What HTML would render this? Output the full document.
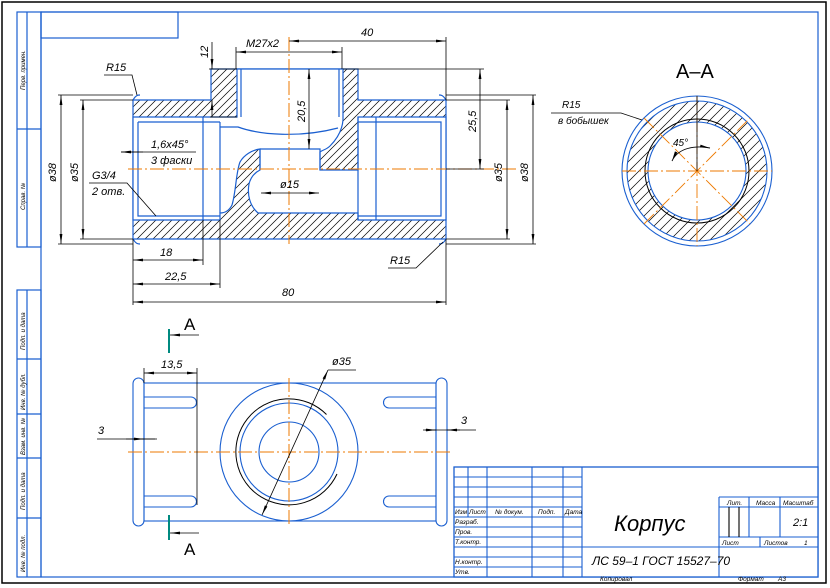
<!DOCTYPE html>
<html><head><meta charset="utf-8"><style>
html,body{margin:0;padding:0;background:#fff;}
svg{display:block;}
text{font-family:"Liberation Sans",sans-serif;font-style:italic;fill:#000;}
</style></head><body>
<svg width="830" height="588" viewBox="0 0 830 588" xmlns="http://www.w3.org/2000/svg">
<defs>
<pattern id="h" patternUnits="userSpaceOnUse" width="8" height="8"><path d="M-1,9 L9,-1 M-1,1 L1,-1 M7,9 L9,7" stroke="#000" stroke-width="0.7"/></pattern>
<pattern id="h2" patternUnits="userSpaceOnUse" width="10" height="10"><path d="M-1,11 L11,-1 M-1,1 L1,-1 M9,11 L11,9" stroke="#000" stroke-width="0.7"/></pattern>
<marker id="a" viewBox="0 0 10 4" refX="10" refY="2" markerWidth="10" markerHeight="4" orient="auto-start-reverse" markerUnits="userSpaceOnUse"><path d="M0,0.6 L10,2 L0,3.4 Z" fill="#000"/></marker>
</defs>
<!-- frames -->
<rect x="2" y="2" width="824" height="581" fill="none" stroke="#000" stroke-width="1.5"/>
<rect x="41" y="12" width="777" height="565" fill="none" stroke="#1a5fd0" stroke-width="1.2"/>
<rect x="41" y="12" width="137" height="26" fill="none" stroke="#1a5fd0" stroke-width="1.2"/>
<g fill="none" stroke="#1a5fd0" stroke-width="1.2">
<rect x="17" y="12" width="24" height="235"/><line x1="27" y1="12" x2="27" y2="247"/><line x1="17" y1="129" x2="41" y2="129"/>
<rect x="17" y="290" width="24" height="287"/><line x1="27" y1="290" x2="27" y2="577"/>
<line x1="17" y1="359" x2="41" y2="359"/><line x1="17" y1="414" x2="41" y2="414"/><line x1="17" y1="458" x2="41" y2="458"/><line x1="17" y1="518" x2="41" y2="518"/>
</g>
<g font-size="6">
<text transform="translate(25,90) rotate(-90)">Перв. примен.</text>
<text transform="translate(25,210) rotate(-90)">Справ. №</text>
<text transform="translate(25,350) rotate(-90)">Подп. и дата</text>
<text transform="translate(25,410) rotate(-90)">Инв. № дубл.</text>
<text transform="translate(25,455) rotate(-90)">Взам. инв. №</text>
<text transform="translate(25,510) rotate(-90)">Подп. и дата</text>
<text transform="translate(25,572) rotate(-90)">Инв. № подл.</text>
</g>

<!-- SECTION VIEW -->
<path d="M133,100 L211,100 L211,69 L358,69 L358,100 L446,100 L446,239 L133,239 Z" fill="url(#h)" stroke="#1a5fd0" stroke-width="1.2"/>
<path d="M133,117 L237,117 L237,69 L343,69 L343,120 C342,132 336,140 330,146 C326,150 322,150 320,152 L320,170 L358,170 L358,117 L446,117 L446,220 L358,220 L358,213 L258,213 C250,206 247,195 249,184 C251,176 256,172 260,170 L260,149 C252,150 244,155 240,162 C236,172 236,192 232,205 C229,211 225,213 220,213 L220,220 L133,220 Z" fill="#fff" stroke="#1a5fd0" stroke-width="1.2"/>
<g fill="none" stroke="#1a5fd0" stroke-width="1.2">
<path d="M138,122 L220,122 M138,122 L138,216 L220,216 M203,117 L203,220 M220,122 L220,213"/>
<path d="M358,122 L441,122 L441,216 L358,216 M376,117 L376,220 M358,117 L358,220"/>
<path d="M241,69 L241,117 M339,69 L339,117 M220,127 L238,127 C260,135 300,138 338,128"/>
<path d="M260,149 L320,149 L320,170 M260,149 L260,170"/>
<path d="M133,100 C136,95 138,95 140,95 M133,239 C136,244 138,244 140,244 M446,100 C443,95 441,95 439,95 M446,239 C443,244 441,244 439,244"/>
</g>
<g stroke="#ee7a00" stroke-width="1" stroke-dasharray="14,3,2,3" fill="none">
<line x1="128" y1="169" x2="518" y2="169"/><line x1="289" y1="37" x2="289" y2="244"/>
</g>
<!-- dimensions section -->
<g stroke="#000" stroke-width="0.8" fill="none">
<line x1="446" y1="37" x2="446" y2="100"/>
<line x1="289" y1="41" x2="446" y2="41" marker-start="url(#a)" marker-end="url(#a)"/>
<line x1="236" y1="47" x2="236" y2="69"/><line x1="342" y1="47" x2="342" y2="69"/>
<line x1="236" y1="52" x2="342" y2="52" marker-start="url(#a)" marker-end="url(#a)"/>
<line x1="209" y1="69" x2="237" y2="69"/><line x1="210" y1="117" x2="237" y2="117"/>
<line x1="212" y1="42" x2="212" y2="69" marker-end="url(#a)"/><line x1="212" y1="100" x2="212" y2="117" marker-start="url(#a)"/>
<line x1="309" y1="69" x2="309" y2="149" marker-start="url(#a)" marker-end="url(#a)"/>
<line x1="343" y1="69" x2="484" y2="69"/><line x1="446" y1="169" x2="484" y2="169"/>
<line x1="480" y1="69" x2="480" y2="169" marker-start="url(#a)" marker-end="url(#a)"/>
<line x1="58" y1="95" x2="133" y2="95"/><line x1="58" y1="244" x2="133" y2="244"/>
<line x1="80" y1="100" x2="133" y2="100"/><line x1="80" y1="239" x2="133" y2="239"/>
<line x1="61" y1="95" x2="61" y2="244" marker-start="url(#a)" marker-end="url(#a)"/>
<line x1="83" y1="100" x2="83" y2="239" marker-start="url(#a)" marker-end="url(#a)"/>
<line x1="446" y1="95" x2="536" y2="95"/><line x1="446" y1="244" x2="536" y2="244"/>
<line x1="446" y1="100" x2="510" y2="100"/><line x1="446" y1="239" x2="510" y2="239"/>
<line x1="533" y1="95" x2="533" y2="244" marker-start="url(#a)" marker-end="url(#a)"/>
<line x1="507" y1="100" x2="507" y2="239" marker-start="url(#a)" marker-end="url(#a)"/>
<line x1="133" y1="239" x2="133" y2="305"/><line x1="446" y1="239" x2="446" y2="305"/>
<line x1="203" y1="220" x2="203" y2="265"/><line x1="220" y1="220" x2="220" y2="288"/>
<line x1="133" y1="260" x2="203" y2="260" marker-start="url(#a)" marker-end="url(#a)"/>
<line x1="133" y1="284" x2="220" y2="284" marker-start="url(#a)" marker-end="url(#a)"/>
<line x1="133" y1="302" x2="446" y2="302" marker-start="url(#a)" marker-end="url(#a)"/>
<line x1="261" y1="193" x2="319" y2="193" marker-start="url(#a)" marker-end="url(#a)"/>
<polyline points="104,75 132,75 137,95"/>
<line x1="121" y1="152" x2="196" y2="152"/><line x1="143" y1="152" x2="121" y2="152" marker-end="url(#a)"/>
<polyline points="89,183 127,183 156,216"/>
<polyline points="388,268 416,268 443,242"/>
</g>
<g font-size="11">
<text x="361" y="36">40</text>
<text x="246" y="47">M27x2</text>
<text transform="translate(208,58) rotate(-90)">12</text>
<text transform="translate(305,122) rotate(-90)">20,5</text>
<text transform="translate(476,132) rotate(-90)">25,5</text>
<text transform="translate(56,182) rotate(-90)">ø38</text>
<text transform="translate(78,182) rotate(-90)">ø35</text>
<text transform="translate(502,182) rotate(-90)">ø35</text>
<text transform="translate(528,182) rotate(-90)">ø38</text>
<text x="106" y="71">R15</text>
<text x="151" y="148">1,6x45°</text>
<text x="151" y="164">3 фаски</text>
<text x="92" y="179">G3/4</text>
<text x="92" y="195">2 отв.</text>
<text x="160" y="256">18</text>
<text x="165" y="280">22,5</text>
<text x="282" y="296">80</text>
<text x="280" y="188">ø15</text>
<text x="390" y="264">R15</text>
</g>

<!-- A-A -->
<text x="676" y="78" font-size="20" style="font-style:normal">A–A</text>
<path d="M697,101 a70,70 0 1,0 0.01,0 Z M697,122 a49,49 0 1,1 -0.01,0 Z" fill="url(#h2)" fill-rule="evenodd"/>
<g fill="none" stroke="#1a5fd0" stroke-width="1.1">
<circle cx="697" cy="171" r="75"/><circle cx="697" cy="171" r="70"/><circle cx="697" cy="171" r="49"/>
</g>
<circle cx="697" cy="171" r="52" fill="none" stroke="#000" stroke-width="1"/>
<g stroke="#ee7a00" stroke-width="0.9" stroke-dasharray="14,3,2,3">
<line x1="622" y1="171" x2="772" y2="171"/><line x1="697" y1="96" x2="697" y2="246"/>
<line x1="644" y1="224" x2="750" y2="118"/><line x1="644" y1="118" x2="750" y2="224"/>
</g>
<line x1="697" y1="96" x2="697" y2="171" stroke="#000" stroke-width="0.8"/>
<path d="M672,161 C678,148 695,145 710,148" fill="none" stroke="#000" stroke-width="0.9" marker-start="url(#a)" marker-end="url(#a)"/>
<polyline points="551,113 621,113 642,120" fill="none" stroke="#000" stroke-width="0.8"/>
<text x="562" y="108" font-size="10">R15</text>
<text x="558" y="124" font-size="10">в бобышек</text>
<text x="673" y="146" font-size="10">45°</text>

<!-- BOTTOM VIEW -->
<g fill="none" stroke="#1a5fd0" stroke-width="1.1">
<rect x="144" y="383" width="292" height="138"/>
<rect x="133" y="378" width="11" height="148" rx="5.5"/>
<rect x="436" y="378" width="11" height="148" rx="5.5"/>
<path d="M144,397 L191,397 A5.5,5.5 0 0 1 191,408 L144,408 M144,496 L191,496 A5.5,5.5 0 0 1 191,507 L144,507"/>
<path d="M436,397 L389,397 A5.5,5.5 0 0 0 389,408 L436,408 M436,496 L389,496 A5.5,5.5 0 0 0 389,507 L436,507"/>
<circle cx="289" cy="452" r="69"/><circle cx="289" cy="452" r="49"/><circle cx="289" cy="452" r="30"/>
</g>
<path d="M326.5,414.5 A53,53 0 1,0 337,474" fill="none" stroke="#000" stroke-width="1"/>
<g stroke="#ee7a00" stroke-width="1" stroke-dasharray="14,3,2,3">
<line x1="128" y1="452" x2="452" y2="452"/><line x1="289" y1="378" x2="289" y2="527"/>
</g>
<g stroke="#000" stroke-width="0.8" fill="none">
<line x1="144" y1="368" x2="144" y2="383"/><line x1="197" y1="368" x2="197" y2="505"/>
<line x1="144" y1="373" x2="197" y2="373" marker-start="url(#a)" marker-end="url(#a)"/>
<line x1="97" y1="439" x2="155" y2="439"/><line x1="126" y1="439" x2="144" y2="439" marker-end="url(#a)"/><line x1="157" y1="439" x2="133" y2="439"/>
<line x1="423" y1="430" x2="476" y2="430"/><line x1="425" y1="430" x2="436" y2="430" marker-end="url(#a)"/><line x1="460" y1="430" x2="447" y2="430" marker-end="url(#a)"/>
<line x1="328" y1="370" x2="262" y2="515" marker-start="url(#a)" marker-end="url(#a)"/><line x1="328" y1="370" x2="356" y2="370"/>
<line x1="199" y1="335" x2="170" y2="335" marker-end="url(#a)"/><line x1="199" y1="533" x2="170" y2="533" marker-end="url(#a)"/>
</g>
<g stroke="#008a80" stroke-width="2"><line x1="169" y1="329" x2="169" y2="353"/><line x1="169" y1="515" x2="169" y2="540"/></g>
<text x="184" y="330" font-size="17" style="font-style:normal">A</text>
<text x="184" y="555" font-size="17" style="font-style:normal">A</text>
<g font-size="11"><text x="161" y="368">13,5</text><text x="332" y="365">ø35</text><text x="98" y="434">3</text><text x="461" y="424">3</text></g>

<!-- TITLE BLOCK -->
<rect x="454" y="467" width="364" height="110" fill="#fff" stroke="#1a5fd0" stroke-width="1.3"/>
<g stroke="#1a5fd0" stroke-width="1.1" fill="none">
<line x1="468" y1="467" x2="468" y2="517"/><line x1="487" y1="467" x2="487" y2="577"/><line x1="532" y1="467" x2="532" y2="577"/><line x1="563" y1="467" x2="563" y2="577"/><line x1="582" y1="467" x2="582" y2="577"/>
<line x1="454" y1="477" x2="582" y2="477"/><line x1="454" y1="487" x2="582" y2="487"/><line x1="454" y1="497" x2="582" y2="497"/><line x1="454" y1="507" x2="582" y2="507"/>
<line x1="454" y1="517" x2="582" y2="517"/><line x1="454" y1="527" x2="582" y2="527"/><line x1="454" y1="537" x2="582" y2="537"/><line x1="454" y1="547" x2="582" y2="547"/><line x1="454" y1="557" x2="582" y2="557"/><line x1="454" y1="567" x2="582" y2="567"/>
<line x1="582" y1="547" x2="818" y2="547"/>
<line x1="719" y1="497" x2="719" y2="577"/><line x1="719" y1="497" x2="818" y2="497"/><line x1="719" y1="507" x2="818" y2="507"/><line x1="719" y1="537" x2="818" y2="537"/>
<line x1="749" y1="497" x2="749" y2="537"/><line x1="780" y1="497" x2="780" y2="537"/><line x1="760" y1="537" x2="760" y2="547"/>
<line x1="729" y1="507" x2="729" y2="537" stroke="#000"/><line x1="739" y1="507" x2="739" y2="537" stroke="#000"/>
</g>
<g font-size="6.5">
<text x="455" y="514">Изм</text><text x="469" y="514">Лист</text><text x="495" y="514">№ докум.</text><text x="538" y="514">Подп.</text><text x="565" y="514">Дата</text>
<text x="455" y="524">Разраб.</text><text x="455" y="534">Пров.</text><text x="455" y="544">Т.контр.</text><text x="455" y="564">Н.контр.</text><text x="455" y="574">Утв.</text>
<text x="727" y="505">Лит.</text><text x="756" y="505">Масса</text><text x="783" y="505">Масштаб</text>
<text x="722" y="545">Лист</text><text x="764" y="545">Листов</text><text x="804" y="545">1</text>
<text x="600" y="581">Копировал</text><text x="738" y="581">Формат</text><text x="778" y="581">А3</text>
</g>
<text x="793" y="526" font-size="11">2:1</text>
<text x="614" y="531" font-size="22">Корпус</text>
<text x="592" y="565" font-size="12">ЛС 59–1  ГОСТ 15527–70</text>
</svg>
</body></html>
